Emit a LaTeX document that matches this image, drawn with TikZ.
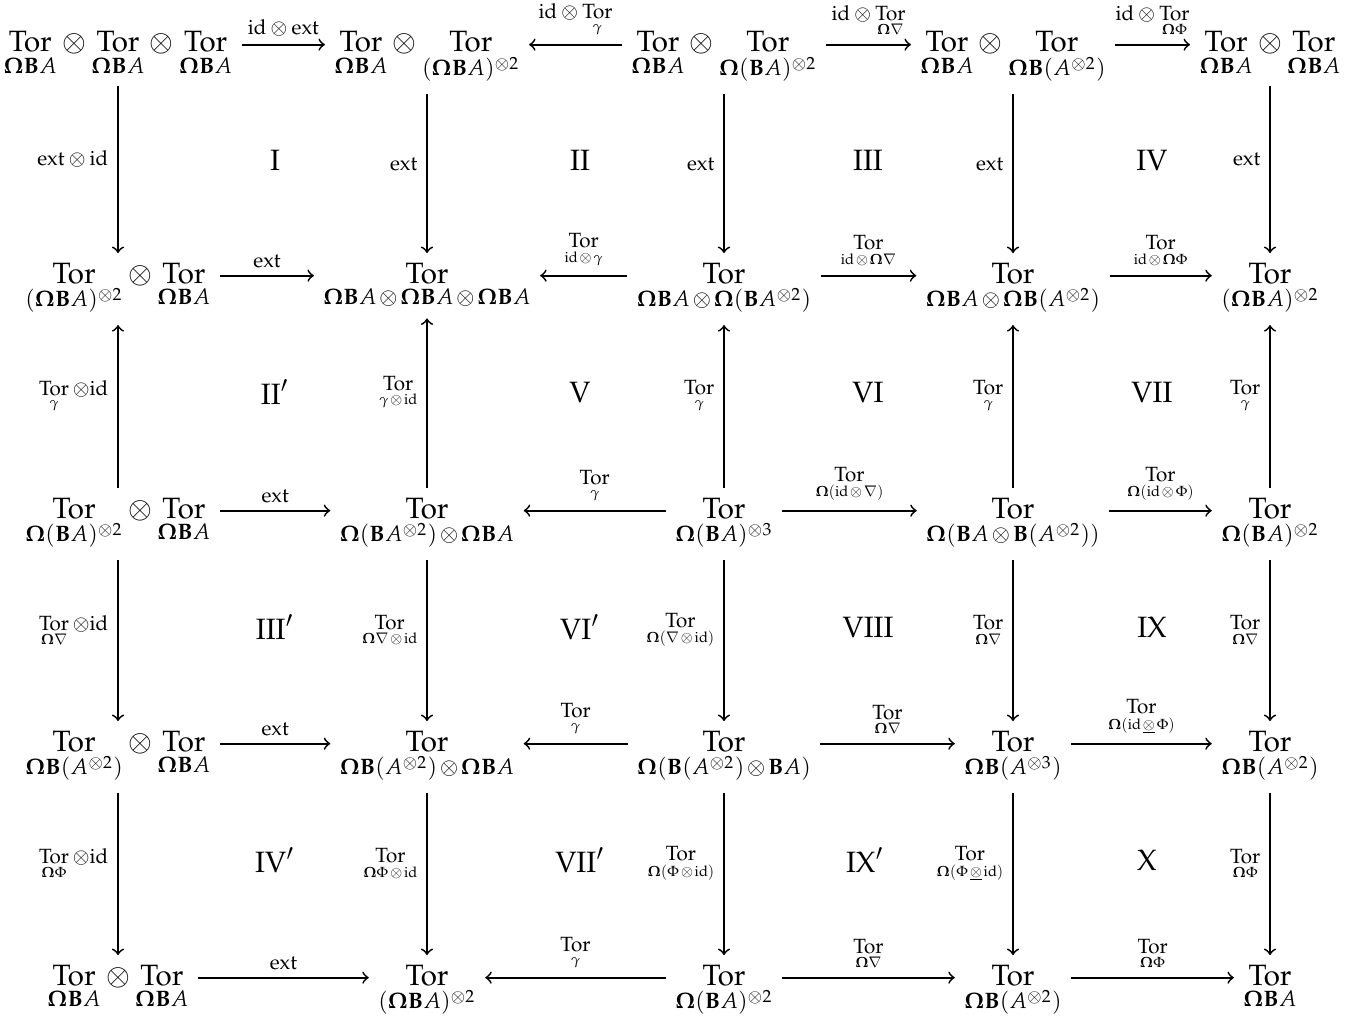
\documentclass[tikz,border=0pt]{standalone}
\usepackage[T1]{fontenc}
\usepackage{mathpazo}
\usepackage{amsmath}
\newcommand{\TOR}[1]{\mathop{\mathrm{Tor}}\limits_{#1}}
\newcommand{\OBa}{\mathbf{\Omega B}A}
\newcommand{\OBb}{\mathbf{\Omega B}}
\newcommand{\Omb}{\mathbf{\Omega}}
\newcommand{\Bbf}{\mathbf{B}}
\newcommand{\sot}{\mskip2mu\otimes\mskip2mu}
\newcommand{\uot}{\mskip2mu\underline{\otimes}\mskip2mu}
\tikzset{
  obj/.style={anchor=base, inner sep=3pt},
  ar/.style={->, line width=0.6pt},
  hl/.style={midway, above, font=\scriptsize, inner sep=2.5pt},
  vl/.style={pos=0.44, left, font=\scriptsize, inner sep=3pt},
  vlu/.style={pos=0.56, left, font=\scriptsize, inner sep=3pt},
  reg/.style={inner sep=0pt}
}
\begin{document}
\begin{tikzpicture}[x=0.34pt, y=-0.34pt]
\useasboundingbox (0,0) rectangle (1364,1019);
% row 1
\node[obj] (n11) at (118,52) {$\TOR{\OBa}\otimes\TOR{\OBa}\otimes\TOR{\OBa}$};
\node[obj] (n12) at (427,52) {$\TOR{\OBa}\otimes\TOR{(\OBa)^{\otimes2}}$};
\node[obj] (n13) at (724,52) {$\TOR{\OBa}\otimes\TOR{\Omb(\Bbf A)^{\otimes2}}$};
\node[obj] (n14) at (1013,52) {$\TOR{\OBa}\otimes\TOR{\OBb(A^{\otimes2})}$};
\node[obj] (n15) at (1270,52) {$\TOR{\OBa}\otimes\TOR{\OBa}$};
% row 2
\node[obj] (n21) at (118,283) {$\TOR{(\OBa)^{\otimes2}}\otimes\TOR{\OBa}$};
\node[obj] (n22) at (427,283) {$\TOR{\OBa\sot\OBa\sot\OBa}$};
\node[obj] (n23) at (724,283) {$\TOR{\OBa\sot\Omb(\Bbf A^{\otimes2})}$};
\node[obj] (n24) at (1013,283) {$\TOR{\OBa\sot\OBb(A^{\otimes2})}$};
\node[obj] (n25) at (1270,283) {$\TOR{(\OBa)^{\otimes2}}$};
% row 3
\node[obj] (n31) at (118,518) {$\TOR{\Omb(\Bbf A)^{\otimes2}}\otimes\TOR{\OBa}$};
\node[obj] (n32) at (427,518) {$\TOR{\Omb(\Bbf A^{\otimes2})\sot\OBa}$};
\node[obj] (n33) at (724,518) {$\TOR{\Omb(\Bbf A)^{\otimes3}}$};
\node[obj] (n34) at (1013,518) {$\TOR{\Omb(\Bbf A\sot\Bbf(A^{\otimes2}))}$};
\node[obj] (n35) at (1270,518) {$\TOR{\Omb(\Bbf A)^{\otimes2}}$};
% row 4
\node[obj] (n41) at (118,751) {$\TOR{\OBb(A^{\otimes2})}\otimes\TOR{\OBa}$};
\node[obj] (n42) at (427,751) {$\TOR{\OBb(A^{\otimes2})\sot\OBa}$};
\node[obj] (n43) at (724,751) {$\TOR{\Omb(\Bbf(A^{\otimes2})\sot\Bbf A)}$};
\node[obj] (n44) at (1013,751) {$\TOR{\OBb(A^{\otimes3})}$};
\node[obj] (n45) at (1270,751) {$\TOR{\OBb(A^{\otimes2})}$};
% row 5
\node[obj] (n51) at (118,985) {$\TOR{\OBa}\otimes\TOR{\OBa}$};
\node[obj] (n52) at (427,985) {$\TOR{(\OBa)^{\otimes2}}$};
\node[obj] (n53) at (724,985) {$\TOR{\Omb(\Bbf A)^{\otimes2}}$};
\node[obj] (n54) at (1013,985) {$\TOR{\OBb(A^{\otimes2})}$};
\node[obj] (n55) at (1270,985) {$\TOR{\OBa}$};
% horizontal arrows
\draw[ar] ([yshift=2.5pt]n11.base east) -- node[hl]{$\mathrm{id}\otimes\mathrm{ext}$} ([yshift=2.5pt]n12.base west);
\draw[ar] ([yshift=2.5pt]n13.base west) -- node[hl]{$\mathrm{id}\otimes\TOR{\gamma}$} ([yshift=2.5pt]n12.base east);
\draw[ar] ([yshift=2.5pt]n13.base east) -- node[hl]{$\mathrm{id}\otimes\TOR{\Omb\nabla}$} ([yshift=2.5pt]n14.base west);
\draw[ar] ([yshift=2.5pt]n14.base east) -- node[hl]{$\mathrm{id}\otimes\TOR{\Omb\Phi}$} ([yshift=2.5pt]n15.base west);
\draw[ar] ([yshift=2.5pt]n21.base east) -- node[hl]{$\mathrm{ext}$} ([yshift=2.5pt]n22.base west);
\draw[ar] ([yshift=2.5pt]n23.base west) -- node[hl]{$\TOR{\mathrm{id}\sot\gamma}$} ([yshift=2.5pt]n22.base east);
\draw[ar] ([yshift=2.5pt]n23.base east) -- node[hl]{$\TOR{\mathrm{id}\sot\Omb\nabla}$} ([yshift=2.5pt]n24.base west);
\draw[ar] ([yshift=2.5pt]n24.base east) -- node[hl]{$\TOR{\mathrm{id}\sot\Omb\Phi}$} ([yshift=2.5pt]n25.base west);
\draw[ar] ([yshift=2.5pt]n31.base east) -- node[hl]{$\mathrm{ext}$} ([yshift=2.5pt]n32.base west);
\draw[ar] ([yshift=2.5pt]n33.base west) -- node[hl]{$\TOR{\gamma}$} ([yshift=2.5pt]n32.base east);
\draw[ar] ([yshift=2.5pt]n33.base east) -- node[hl]{$\TOR{\Omb(\mathrm{id}\sot\nabla)}$} ([yshift=2.5pt]n34.base west);
\draw[ar] ([yshift=2.5pt]n34.base east) -- node[hl]{$\TOR{\Omb(\mathrm{id}\sot\Phi)}$} ([yshift=2.5pt]n35.base west);
\draw[ar] ([yshift=2.5pt]n41.base east) -- node[hl]{$\mathrm{ext}$} ([yshift=2.5pt]n42.base west);
\draw[ar] ([yshift=2.5pt]n43.base west) -- node[hl]{$\TOR{\gamma}$} ([yshift=2.5pt]n42.base east);
\draw[ar] ([yshift=2.5pt]n43.base east) -- node[hl]{$\TOR{\Omb\nabla}$} ([yshift=2.5pt]n44.base west);
\draw[ar] ([yshift=2.5pt]n44.base east) -- node[hl]{$\TOR{\Omb(\mathrm{id}\uot\Phi)}$} ([yshift=2.5pt]n45.base west);
\draw[ar] ([yshift=2.5pt]n51.base east) -- node[hl]{$\mathrm{ext}$} ([yshift=2.5pt]n52.base west);
\draw[ar] ([yshift=2.5pt]n53.base west) -- node[hl]{$\TOR{\gamma}$} ([yshift=2.5pt]n52.base east);
\draw[ar] ([yshift=2.5pt]n53.base east) -- node[hl]{$\TOR{\Omb\nabla}$} ([yshift=2.5pt]n54.base west);
\draw[ar] ([yshift=2.5pt]n54.base east) -- node[hl]{$\TOR{\Omb\Phi}$} ([yshift=2.5pt]n55.base west);
% vertical arrows rows 1-2
\draw[ar] (n11) -- node[vl]{$\mathrm{ext}\otimes\mathrm{id}$} (n21);
\draw[ar] (n12) -- node[vl]{$\mathrm{ext}$} (n22);
\draw[ar] (n13) -- node[vl]{$\mathrm{ext}$} (n23);
\draw[ar] (n14) -- node[vl]{$\mathrm{ext}$} (n24);
\draw[ar] (n15) -- node[vl]{$\mathrm{ext}$} (n25);
% rows 3-2 (up)
\draw[ar] (n31) -- node[vlu]{$\TOR{\gamma}\otimes\mathrm{id}$} (n21);
\draw[ar] (n32) -- node[vlu]{$\TOR{\gamma\sot\mathrm{id}}$} (n22);
\draw[ar] (n33) -- node[vlu]{$\TOR{\gamma}$} (n23);
\draw[ar] (n34) -- node[vlu]{$\TOR{\gamma}$} (n24);
\draw[ar] (n35) -- node[vlu]{$\TOR{\gamma}$} (n25);
% rows 3-4
\draw[ar] (n31) -- node[vl]{$\TOR{\Omb\nabla}\otimes\mathrm{id}$} (n41);
\draw[ar] (n32) -- node[vl]{$\TOR{\Omb\nabla\sot\mathrm{id}}$} (n42);
\draw[ar] (n33) -- node[vl]{$\TOR{\Omb(\nabla\sot\mathrm{id})}$} (n43);
\draw[ar] (n34) -- node[vl]{$\TOR{\Omb\nabla}$} (n44);
\draw[ar] (n35) -- node[vl]{$\TOR{\Omb\nabla}$} (n45);
% rows 4-5
\draw[ar] (n41) -- node[vl]{$\TOR{\Omb\Phi}\otimes\mathrm{id}$} (n51);
\draw[ar] (n42) -- node[vl]{$\TOR{\Omb\Phi\sot\mathrm{id}}$} (n52);
\draw[ar] (n43) -- node[vl]{$\TOR{\Omb(\Phi\sot\mathrm{id})}$} (n53);
\draw[ar] (n44) -- node[vl]{$\TOR{\Omb(\Phi\uot\mathrm{id})}$} (n54);
\draw[ar] (n45) -- node[vl]{$\TOR{\Omb\Phi}$} (n55);
% region labels
\node[reg] (rI) at (275,160) {$\mathrm{I}$};
\node[reg] (rII) at (580,160) {$\mathrm{II}$};
\node[reg] (rIII) at (868,160) {$\mathrm{III}$};
\node[reg] (rIV) at (1152,160) {$\mathrm{IV}$};
\node[reg] (rIIp) at (275,392) {$\mathrm{II}'$};
\node[reg] (rV) at (580,392) {$\mathrm{V}$};
\node[reg] (rVI) at (868,392) {$\mathrm{VI}$};
\node[reg] (rVII) at (1152,392) {$\mathrm{VII}$};
\node[reg] (rIIIp) at (275,627) {$\mathrm{III}'$};
\node[reg] (rVIp) at (580,627) {$\mathrm{VI}'$};
\node[reg] (rVIII) at (868,627) {$\mathrm{VIII}$};
\node[reg] (rIX) at (1152,627) {$\mathrm{IX}$};
\node[reg] (rIVp) at (275,860) {$\mathrm{IV}'$};
\node[reg] (rVIIp) at (580,860) {$\mathrm{VII}'$};
\node[reg] (rIXp) at (865,860) {$\mathrm{IX}'$};
\node[reg] (rX) at (1147,860) {$\mathrm{X}$};
\end{tikzpicture}
\end{document}
